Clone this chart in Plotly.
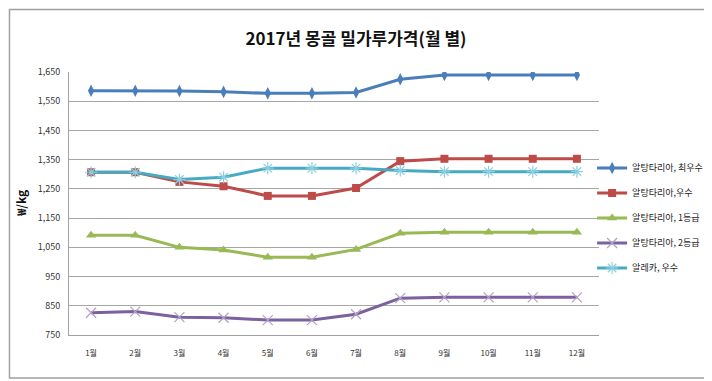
import plotly.graph_objects as go

months = ["1월", "2월", "3월", "4월", "5월", "6월", "7월", "8월", "9월", "10월", "11월", "12월"]
best = [1586, 1586, 1585, 1582, 1577, 1577, 1580, 1625, 1640, 1640, 1640, 1640]
good = [1307, 1307, 1274, 1259, 1226, 1226, 1253, 1345, 1353, 1353, 1353, 1353]
grade1 = [1091, 1091, 1050, 1041, 1016, 1016, 1043, 1098, 1102, 1102, 1102, 1102]
grade2 = [826, 830, 811, 809, 801, 801, 821, 876, 879, 879, 879, 879]
aleka = [1307, 1307, 1282, 1290, 1321, 1321, 1321, 1313, 1309, 1309, 1309, 1309]
names = ["알탕타리아, 최우수", "알탕타리아,우수", "알탕타리아, 1등급", "알탕타리아, 2등급", "알레카, 우수"]
yticks = [750, 850, 950, 1050, 1150, 1250, 1350, 1450, 1550, 1650]

FONT = "Noto Sans CJK KR"
series = [
    (best, names[0], "#4A7EBB", dict(symbol="diamond-tall", size=9)),
    (good, names[1], "#BE4B48", dict(symbol="square", size=8)),
    (grade1, names[2], "#98B954", dict(symbol="triangle-up", size=9)),
    (grade2, names[3], "#7D60A0", dict(symbol="x-thin-open", size=10, color="#B3A2C7", line=dict(width=1.2, color="#B3A2C7"))),
    (aleka, names[4], "#46AAC5", dict(symbol="asterisk-open", size=10, color="#8CCFE0", line=dict(width=1.2, color="#8CCFE0"))),
]

fig = go.Figure()
for i, (vals, name, col, mk) in enumerate(series):
    m = dict(mk)
    m.setdefault("color", col)
    fig.add_trace(go.Scatter(
        x=months, y=vals, name=name, mode="lines+markers",
        line=dict(color=col, width=3), marker=m, legendgroup=f"g{i}",
    ))

fig.update_layout(
    width=704, height=373,
    margin=dict(l=61, r=113, t=64, b=46, autoexpand=False),
    paper_bgcolor="white", plot_bgcolor="white",
    font=dict(family=FONT, color="#333333", size=9),
    title=dict(text="<b>2017년 몽골 밀가루가격(월 별)</b>", x=0.4943, xref="container",
               xanchor="center", y=0.916, yanchor="middle",
               font=dict(size=17, color="#111111", family=FONT)),
    showlegend=True,
    legend=dict(x=0.987, xanchor="left", y=0.445, yanchor="middle",
                font=dict(size=9, color="#222222", family=FONT),
                tracegroupgap=6, traceorder="grouped", bgcolor="rgba(0,0,0,0)"),
)
fig.update_xaxes(type="category", range=[-0.5, 11.5], showgrid=False,
                 showline=True, linecolor="#A0A0A0", linewidth=1,
                 ticks="", tickfont=dict(size=8, color="#333333"),
                 ticklabelstandoff=10)
fig.update_yaxes(range=[750, 1650], tickvals=yticks, tickformat=",",
                 showgrid=True, gridcolor="#A6A6A6", gridwidth=1,
                 showline=True, linecolor="#A0A0A0", linewidth=1,
                 zeroline=False, ticks="", tickfont=dict(size=9, color="#333333"),
                 ticklabelstandoff=6)
fig.add_annotation(text="<b>₩/kg</b>", x=-0.092, y=0.5, xref="paper", yref="paper",
                   xanchor="center", yanchor="middle",
                   textangle=-90, showarrow=False, font=dict(size=12, color="#111111", family=FONT))
fig.add_shape(type="rect", xref="paper", yref="paper",
              x0=-0.1123, x1=1.2038, y0=-0.1635, y1=1.2376,
              line=dict(color="#A0A0A0", width=1.5), fillcolor="rgba(0,0,0,0)", layer="below")

fig.write_html("out.html")
